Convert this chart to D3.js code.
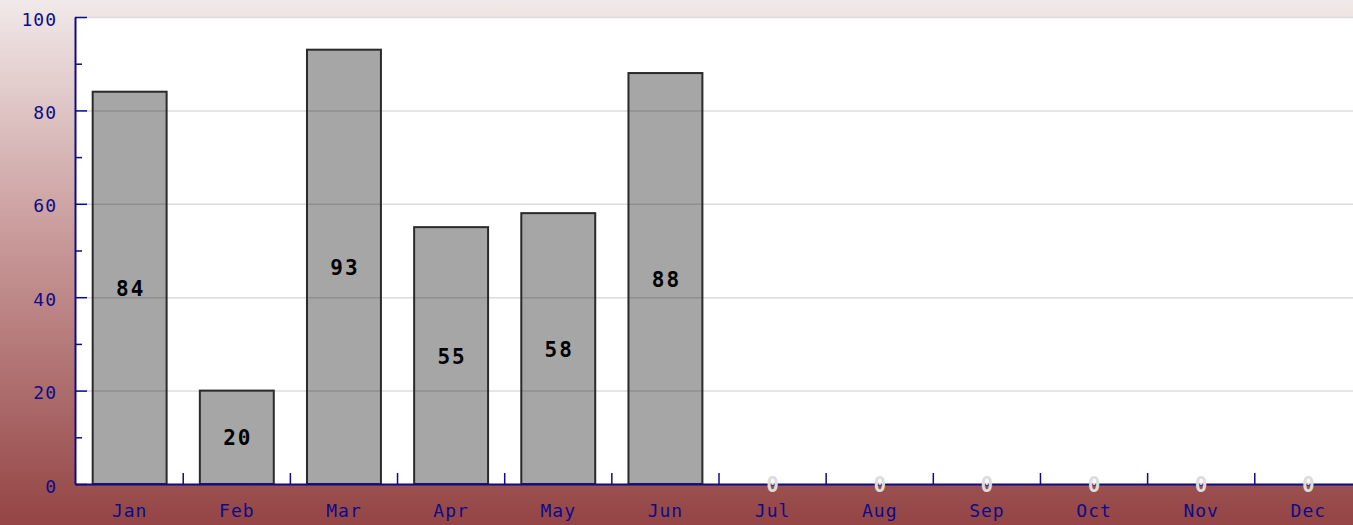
<!DOCTYPE html>
<html><head><meta charset="utf-8">
<script src="https://cdn.jsdelivr.net/npm/d3@7"></script>
<style>html,body{margin:0;padding:0;overflow:hidden;background:#fff}</style>
</head><body>
<svg id="c" width="1353" height="525"></svg>
<script>
const months = ["Jan","Feb","Mar","Apr","May","Jun","Jul","Aug","Sep","Oct","Nov","Dec"];
const values = [84,20,93,55,58,88,0,0,0,0,0,0];
const yTicks = [0,20,40,60,80,100];
const yMinorTicks = [10,30,50,70,90];

(function(){
const W = 1353, H = 525;
const pL = 75, pT = 17, pR = 1363, pB = 484;
const svg = d3.select("#c");
const defs = svg.append("defs");
const g = defs.append("linearGradient").attr("id","bg").attr("x1",0).attr("y1",0).attr("x2",0).attr("y2",1);
g.append("stop").attr("offset","0%").attr("stop-color","#f1e9e9");
g.append("stop").attr("offset","45%").attr("stop-color","#c99a9a");
g.append("stop").attr("offset","100%").attr("stop-color","#944444");
svg.append("rect").attr("width",W).attr("height",H).attr("fill","url(#bg)");

const x = d3.scaleBand().domain(months).range([pL,pR]).paddingInner(0.31).paddingOuter(0.165);
const y = d3.scaleLinear().domain([0,100]).range([pB,pT]);

svg.append("rect").attr("x",pL).attr("y",pT).attr("width",pR-pL).attr("height",pB-pT).attr("fill","#fff");

// gridlines
svg.append("g").selectAll("line").data(yTicks.filter(d=>d>0)).join("line")
  .attr("x1",pL).attr("x2",pR).attr("y1",d=>y(d)+0.5).attr("y2",d=>y(d)+0.5)
  .attr("stroke","#dcdcdc").attr("stroke-width",1.5);

// bars
svg.append("g").selectAll("rect").data(values.map((v,i)=>({m:months[i],v})).filter(d=>d.v>0)).join("rect")
  .attr("x",d=>x(d.m)).attr("y",d=>y(d.v)).attr("width",x.bandwidth()).attr("height",d=>y(0)-y(d.v))
  .attr("fill","#000").attr("fill-opacity",0.35).attr("stroke","#2a2a2a").attr("stroke-width",2);

const font = "'DejaVu Sans Mono', 'Liberation Mono', monospace";
const axisColor = "#0c0c8a";

// y axis
const yAxis = d3.axisLeft(y).tickValues(yTicks).tickSize(-12).tickPadding(18).tickSizeOuter(0);
const ya = svg.append("g").attr("transform",`translate(${pL},0)`).call(yAxis);
ya.select(".domain").attr("stroke",axisColor).attr("stroke-width",2);
ya.selectAll(".tick line").attr("stroke",axisColor).attr("stroke-width",1.5);
ya.selectAll("text").attr("fill",axisColor).attr("dy","0.45em")
  .style("font-family",font).style("font-size","18px").style("letter-spacing","1px");
const yMinor = d3.axisLeft(y).tickValues(yMinorTicks).tickSize(-7).tickFormat("");
const ym = svg.append("g").attr("transform",`translate(${pL},0)`).call(yMinor);
ym.select(".domain").remove();
ym.selectAll(".tick line").attr("stroke",axisColor).attr("stroke-width",1.5);

// x axis
const xAxis = d3.axisBottom(x).tickSize(0).tickPadding(20).tickSizeOuter(0);
const xa = svg.append("g").attr("transform",`translate(0,${pB})`).call(xAxis);
xa.select(".domain").attr("stroke",axisColor).attr("stroke-width",2);
xa.selectAll("text").attr("fill",axisColor).attr("dy","0.71em")
  .style("font-family",font).style("font-size","18px").style("letter-spacing","1px");
// boundary ticks
const step = x.step();
svg.append("g").selectAll("line").data(months.slice(1)).join("line")
  .attr("x1",d=>x(d)-step*x.paddingInner()/2).attr("x2",d=>x(d)-step*x.paddingInner()/2)
  .attr("y1",pB).attr("y2",pB-11).attr("stroke",axisColor).attr("stroke-width",1.5);

// value labels
svg.append("g").selectAll("text").data(values.map((v,i)=>({m:months[i],v}))).join("text")
  .attr("x",d=>x(d.m)+x.bandwidth()/2+1)
  .attr("y",d=>(y(d.v)+y(0))/2+2)
  .attr("text-anchor","middle").attr("dominant-baseline","middle")
  .attr("fill",d=>d.v>0?"#000":"#dcdcdc")
  .style("font-family",font).style("font-weight","bold").style("font-size","21px").style("letter-spacing","2px")
  .text(d=>d.v);
})();
</script>
</body></html>
